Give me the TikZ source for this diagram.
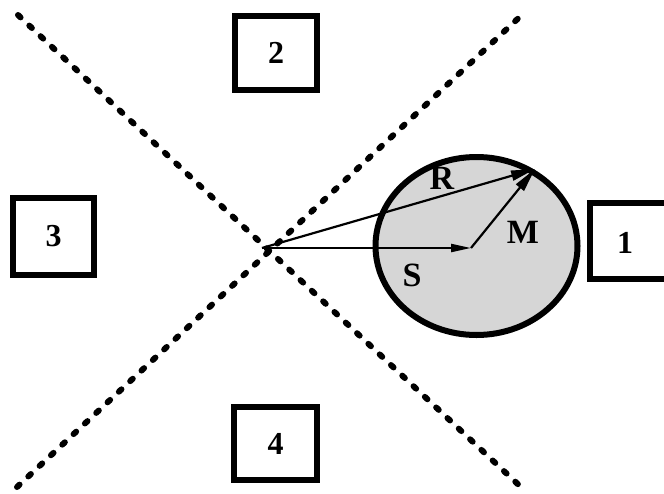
\documentclass[tikz,border=0pt]{standalone}
\usepackage{fontspec}
\setmainfont{Liberation Serif}
\usetikzlibrary{arrows.meta,shapes.geometric}
\begin{document}
\begin{tikzpicture}[x=1pt,y=-1pt,
  dotline/.style={line width=6pt,line cap=round,dash pattern=on 3.5pt off 12pt,black},
  region/.style={draw=black,line width=6pt,fill=white,minimum width=#1,inner sep=0pt,font=\fontsize{32}{32}\selectfont\bfseries},
  vec/.style={line width=2.2pt,-{Triangle[length=20pt,width=8pt]}},
  lab/.style={font=\fontsize{34}{34}\selectfont\bfseries,inner sep=0pt}]
\path[use as bounding box,clip] (0,0) rectangle (664,493);
% dotted diagonals
\coordinate (O) at (262,248);
\coordinate (tl) at (18,15);
\coordinate (br) at (522,488);
\coordinate (tr) at (525,12);
\coordinate (bl) at (17,487);
\draw[dotline] (tl) -- (br);
\draw[dotline] (bl) -- (tr);
% disc
\node (disc) [draw=black,line width=6pt,fill=gray!32,ellipse,minimum width=202pt,minimum height=178pt,inner sep=0pt] at (476.5,246) {};
% boxes
\node (b2) [region=82pt,minimum height=74pt] at (276,53) {2};
\node (b3) [region=81pt,minimum height=77pt] at (53.5,236.5) {3};
\node (b4) [region=83pt,minimum height=73pt] at (275.5,443.5) {4};
\node (b1) [region=82pt,minimum height=76pt] at (631,241) {};
\node (n1) [font=\fontsize{32}{32}\selectfont\bfseries] at (625,243) {1};
% vectors
\coordinate (Sp) at (471,248);
\coordinate (T) at (535,169);
\draw[vec] (O) -- (Sp);
\draw[vec,-{Triangle[length=24pt,width=10pt]}] (O) -- (T);
\draw[vec,-{Triangle[length=24pt,width=10pt]}] (Sp) -- (T);
% labels
\node (R) [lab] at (442,178) {R};
\node (M) [lab] at (523,232) {M};
\node (S) [lab] at (412,275) {S};
\end{tikzpicture}
\end{document}
